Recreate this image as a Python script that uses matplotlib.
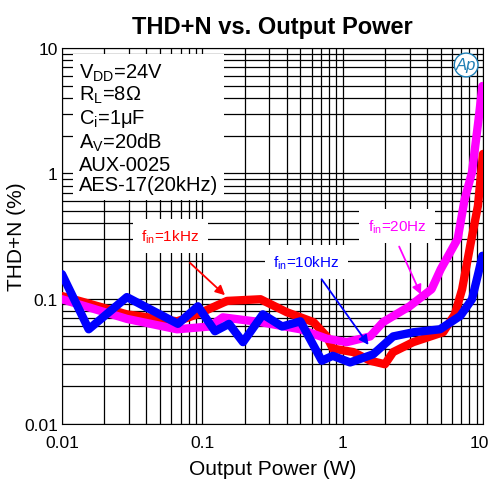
import matplotlib
matplotlib.use('Agg')
import matplotlib.pyplot as plt
import matplotlib.transforms as mtransforms
import numpy as np

plt.rcParams['font.family'] = ['Liberation Sans', 'DejaVu Sans']
plt.rcParams['mathtext.fontset'] = 'custom'
plt.rcParams['mathtext.rm'] = 'Liberation Sans'
plt.rcParams['mathtext.it'] = 'Liberation Sans:italic'

# data (output power in W, THD+N in %)
p_10k = [0.01, 0.0155, 0.029, 0.067, 0.093, 0.123, 0.155, 0.195, 0.27, 0.37,
         0.50, 0.71, 0.85, 1.13, 1.65, 2.29, 3.2, 4.94, 6.9, 8.35, 9.3, 9.9]
thd_10k = [0.157, 0.057, 0.103, 0.063, 0.087, 0.055, 0.063, 0.045, 0.075, 0.060,
           0.066, 0.032, 0.035, 0.031, 0.036, 0.050, 0.054, 0.057, 0.073, 0.099, 0.163, 0.22]

p_1k = [0.01, 0.029, 0.066, 0.092, 0.15, 0.26, 0.40, 0.62, 0.77, 0.85, 1.19,
        1.57, 2.0, 2.29, 3.18, 5.2, 6.3, 7.1, 8.1, 9.2, 10.0]
thd_1k = [0.105, 0.075, 0.066, 0.075, 0.096, 0.099, 0.078, 0.065, 0.050, 0.040, 0.0375,
          0.032, 0.030, 0.0375, 0.045, 0.054, 0.075, 0.119, 0.263, 0.55, 1.43]

p_20 = [0.01, 0.029, 0.066, 0.113, 0.14, 0.26, 0.50, 0.77, 1.07, 1.57, 1.94,
        3.0, 4.3, 5.0, 6.6, 7.4, 8.35, 9.3, 9.9]
thd_20 = [0.099, 0.069, 0.057, 0.060, 0.071, 0.065, 0.057, 0.048, 0.045, 0.050, 0.065,
          0.087, 0.119, 0.172, 0.30, 0.62, 1.02, 2.7, 4.98]

conditions = [r'$\mathregular{V_{DD}}$=24V', r'$\mathregular{R_L}$=8$\mathregular{\Omega}$',
              r'$\mathregular{C_i}$=1$\mathregular{\mu}$F', r'$\mathregular{A_V}$=20dB',
              'AUX-0025', 'AES-17(20kHz)']

fig = plt.figure(figsize=(4.9, 4.81), dpi=100)
ax = fig.add_axes([0.1265, 0.1164, 0.8592, 0.7816])

ax.plot(p_1k, thd_1k, color='#ff0000', lw=6, solid_capstyle='round', solid_joinstyle='round', zorder=3)
ax.plot(p_20, thd_20, color='#ff00ff', lw=6, solid_capstyle='round', solid_joinstyle='round', zorder=4)
ax.plot(p_10k, thd_10k, color='#0000ff', lw=6, solid_capstyle='round', solid_joinstyle='round', zorder=5)

ax.set_xscale('log')
ax.set_yscale('log')
ax.set_xlim(0.01, 10)
ax.set_ylim(0.01, 10)
ax.grid(True, which='both', color='black', lw=0.9)
ax.set_xticks([0.01, 0.1, 1, 10])
ax.set_xticklabels(['0.01', '0.1', '1', '10'])
ax.set_yticks([0.01, 0.1, 1, 10])
ax.set_yticklabels(['0.01', '0.1', '1', '10'])
ax.tick_params(which='both', direction='in', labelsize=12.5, length=0)
ax.tick_params(axis='x', pad=8)
ax.tick_params(axis='y', pad=3)

# nudge the last x label so it stays inside the figure
last = ax.get_xticklabels()[-1]
last.set_transform(last.get_transform() +
                   mtransforms.ScaledTranslation(-4 / 100, 0, fig.dpi_scale_trans))

ax.set_xlabel('Output Power (W)', fontsize=15)
ax.set_ylabel('THD+N (%)', fontsize=15)
ax.xaxis.set_label_coords(0.5, -0.093)
ax.yaxis.set_label_coords(-0.086, 0.5)
ax.set_title('THD+N vs. Output Power', fontsize=17, fontweight='bold', pad=11)

# condition block
ax.text(0.04, 0.965, '\n'.join(conditions), transform=ax.transAxes, fontsize=14.5,
        va='top', ha='left', linespacing=1.1, zorder=6,
        bbox=dict(facecolor='white', edgecolor='none', pad=4))

box = dict(facecolor='white', edgecolor='none', pad=6)
ax.text(0.059, 0.316, r'f$\mathregular{_{in}}$=1kHz', color='#ff0000', fontsize=11,
        ha='center', va='center', bbox=box, zorder=6)
ax.text(0.55, 0.196, r'f$\mathregular{_{in}}$=10kHz', color='#0000ff', fontsize=11,
        ha='center', va='center', bbox=box, zorder=6)
ax.text(2.44, 0.38, r'f$\mathregular{_{in}}$=20Hz', color='#ff00ff', fontsize=11,
        ha='center', va='center', bbox=box, zorder=6)

ax.annotate('', xy=(0.15, 0.103), xytext=(0.079, 0.20), zorder=7,
            arrowprops=dict(arrowstyle='-|>', color='#ff0000', lw=1.3, mutation_scale=14))
ax.annotate('', xy=(1.57, 0.041), xytext=(0.69, 0.149), zorder=7,
            arrowprops=dict(arrowstyle='-|>', color='#0000ff', lw=1.3, mutation_scale=14))
ax.annotate('', xy=(3.68, 0.103), xytext=(2.48, 0.273), zorder=7,
            arrowprops=dict(arrowstyle='-|>', color='#ff00ff', lw=1.3, mutation_scale=14))

# Ap logo
ax.text(0.96, 0.955, 'Ap', transform=ax.transAxes, fontsize=12, style='italic',
        color='#1f7fb5', ha='center', va='center', zorder=6,
        bbox=dict(boxstyle='circle,pad=0.1', facecolor='white', edgecolor='#1f7fb5', lw=1))

fig.savefig('out.png', dpi=100)
